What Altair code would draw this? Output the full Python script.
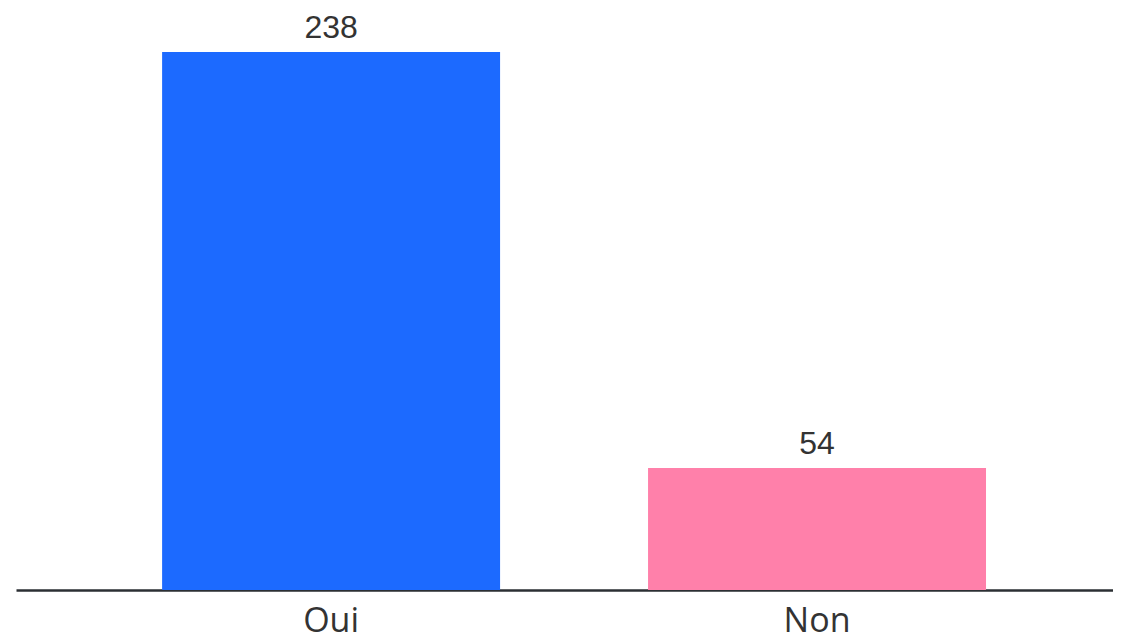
import altair as alt
import pandas as pd

categories = ["Oui", "Non"]
values = [238, 54]
colors = ["#1C6AFF", "#FF80AA"]

df = pd.DataFrame({"cat": categories, "val": values, "color": colors})

x = alt.X("cat:N", sort=categories, title=None,
          scale=alt.Scale(paddingInner=0.3045, paddingOuter=0.281, align=0.535),
          axis=alt.Axis(labelAngle=0, ticks=False, labelPadding=14, labelFontSize=34,
                        labelFont="Open Sans", labelColor="#333333", domainColor="#2b2f33",
                        domainWidth=2.5, grid=False))
y = alt.Y("val:Q", title=None, scale=alt.Scale(domain=[0, 255.3], nice=False, zero=True),
          axis=None)

bars = alt.Chart(df).mark_bar().encode(x=x, y=y, color=alt.Color("color:N", scale=None))
text = alt.Chart(df).mark_text(baseline="bottom", dy=-7, fontSize=32,
                               font="Liberation Sans", color="#333333").encode(
    x=alt.X("cat:N", sort=categories), y="val:Q", text="val:Q")

chart = (bars + text).properties(
    width=1097, height=577,
    background="white",
    autosize=alt.AutoSizeParams(type="none"),
    padding={"left": 8, "top": 5, "right": 0, "bottom": 44},
).configure_view(strokeWidth=0, stroke="transparent")

chart.save("out.html", embed_options={"renderer": "svg", "actions": False})
